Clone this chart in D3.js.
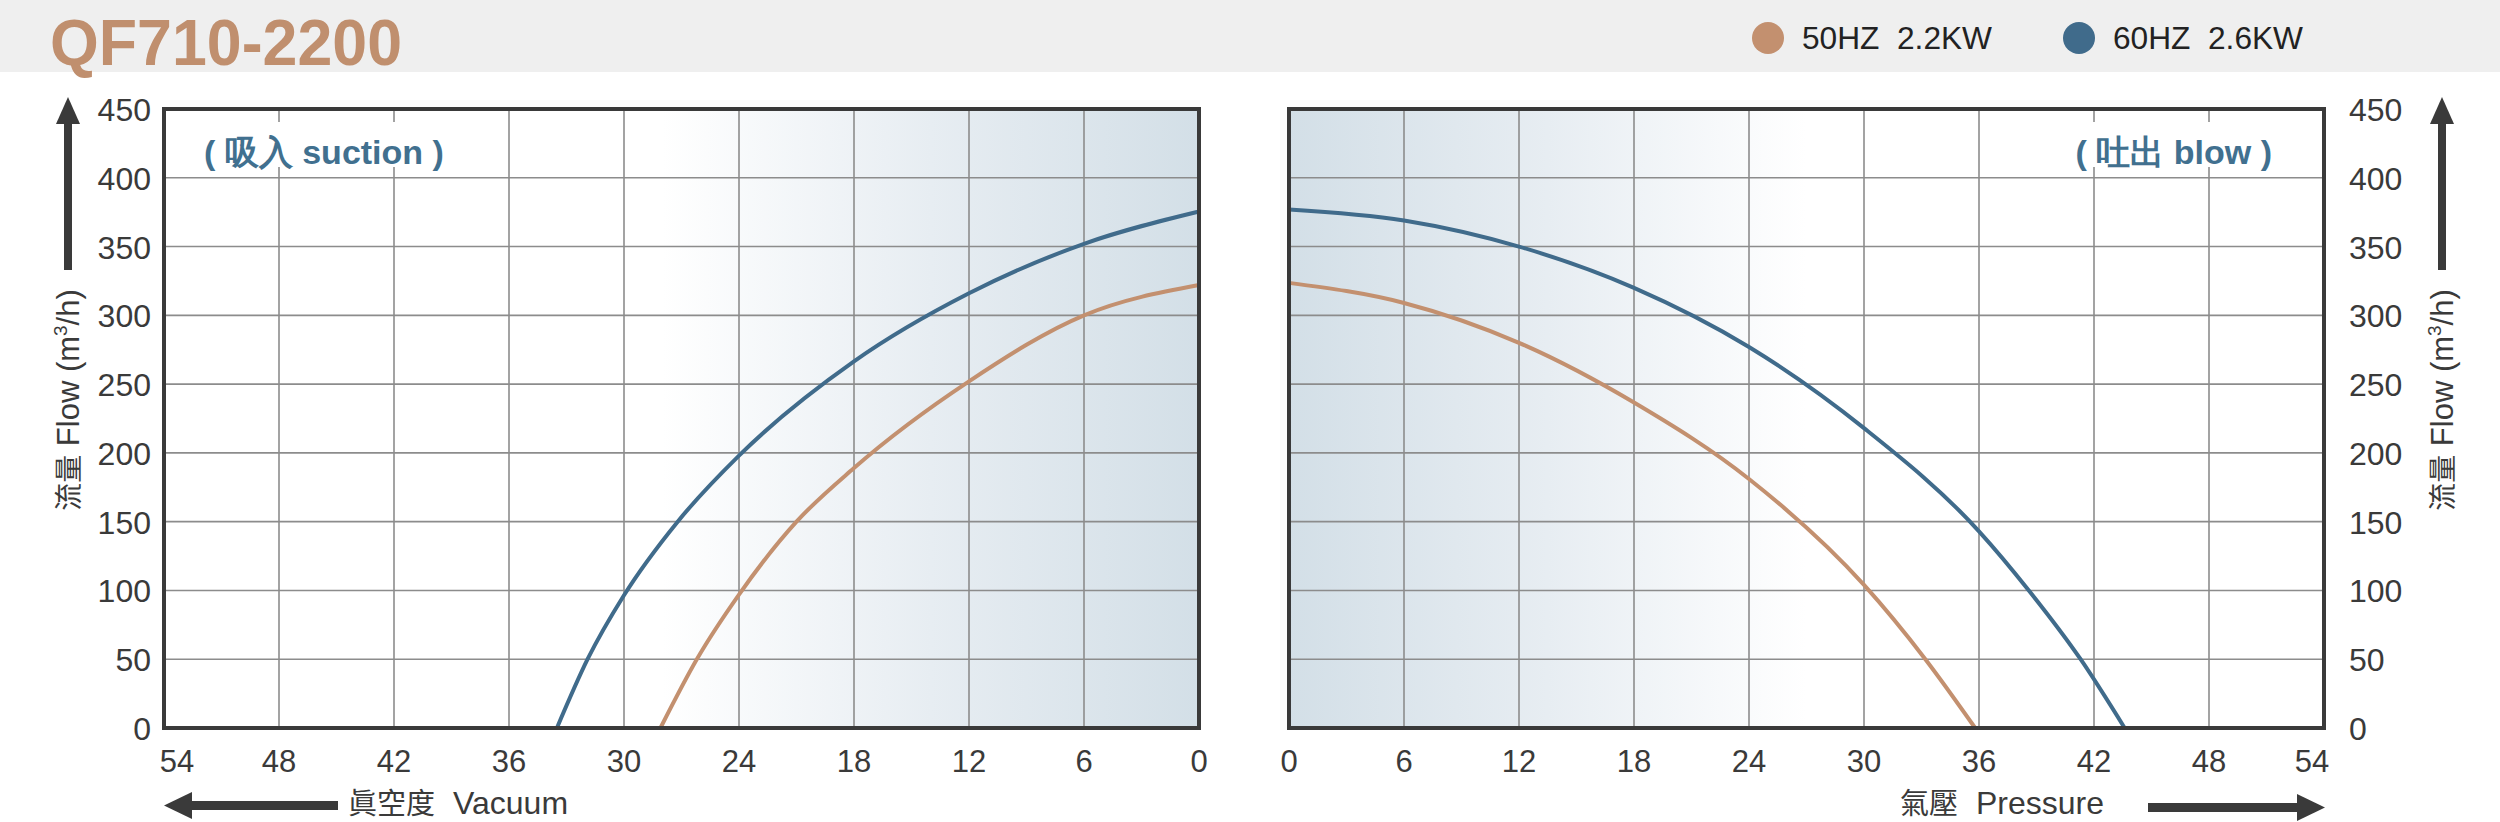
<!DOCTYPE html>
<html>
<head>
<meta charset="utf-8">
<script src="https://cdn.jsdelivr.net/npm/d3@7"></script>
<style>
  html, body { margin: 0; padding: 0; background: #fff; }
  svg { display: block; }
  text { font-family: "Liberation Sans", Arial, sans-serif; white-space: pre; }
</style>
</head>
<body>
<div id="chart"></div>
<script>
/* QF710-2200 suction / blow curves, two mirrored panels. */

var flowTicks = [0, 50, 100, 150, 200, 250, 300, 350, 400, 450];
var vacuumTicks = [54, 48, 42, 36, 30, 24, 18, 12, 6, 0];
var pressureTicks = [0, 6, 12, 18, 24, 30, 36, 42, 48, 54];

var seriesNames = ["50HZ  2.2KW", "60HZ  2.6KW"];
var seriesColors = ["#c3906f", "#406b8b"];

// [vacuum (kPa), flow m3/h]
var suction50 = [[0, 322], [6, 300], [12, 252], [18, 189], [21, 150], [24, 97], [26.2, 50], [28.1, 0]];
var suction60 = [[0, 375.5], [6, 352], [12, 316], [18, 266.5], [24, 198], [27.2, 150], [30, 96.5],
                 [31.9, 50], [33.5, 0]];
// [pressure (kPa), flow m3/h]
var blow50 = [[0, 323.6], [6, 309], [12, 280], [18, 236.6], [24, 181], [30, 104], [33.2, 50], [35.8, 0]];
var blow60 = [[0, 377], [6, 369], [12, 350], [18, 320], [24, 277], [30, 218], [36, 143],
              [38.6, 100], [41.3, 50], [43.6, 0]];

(function () {
  var W = 2500, H = 822;
  var ink = "#3a3a3a";
  var svg = d3.select("#chart").append("svg").attr("width", W).attr("height", H);
  var defs = svg.append("defs");

  // header band
  svg.append("rect").attr("x", 0).attr("y", 0).attr("width", W).attr("height", 72).attr("fill", "#efefef");
  svg.append("text").attr("x", 50).attr("y", 65)
    .attr("font-size", 64).attr("font-weight", 700).attr("fill", "#c08f6e")
    .attr("textLength", 352).attr("lengthAdjust", "spacingAndGlyphs")
    .text("QF710-2200");

  var legendX = [1768, 2079];
  seriesNames.forEach(function (name, i) {
    svg.append("circle").attr("cx", legendX[i]).attr("cy", 38).attr("r", 16).attr("fill", seriesColors[i]);
    svg.append("text").attr("x", legendX[i] + 34).attr("y", 49)
      .attr("font-size", 31).attr("fill", "#222")
      .attr("textLength", 190).attr("lengthAdjust", "spacingAndGlyphs")
      .text(name);
  });

  var y = d3.scaleLinear().domain([0, 450]).range([728, 109]);
  var xL = d3.scaleLinear().domain([54, 0]).range([164, 1199]);
  var xR = d3.scaleLinear().domain([0, 54]).range([1289, 2324]);

  function shade(id, x0, x1) {
    var g = defs.append("linearGradient").attr("id", id)
      .attr("gradientUnits", "userSpaceOnUse")
      .attr("x1", x0).attr("x2", x1).attr("y1", 0).attr("y2", 0);
    g.append("stop").attr("offset", 0).attr("stop-color", "#ffffff");
    g.append("stop").attr("offset", 0.5).attr("stop-color", "#e7edf2");
    g.append("stop").attr("offset", 1).attr("stop-color", "#d3dfe7");
  }
  shade("shadeL", xL(28), xL(0));
  shade("shadeR", xR(27), xR(0));

  function panel(x, ticks, lines, gradId, label, labelAnchor) {
    var x0 = Math.min(x.range()[0], x.range()[1]);
    var x1 = Math.max(x.range()[0], x.range()[1]);
    var g = svg.append("g");

    g.append("rect").attr("x", x0).attr("y", y(450)).attr("width", x1 - x0).attr("height", y(0) - y(450))
      .attr("fill", "url(#" + gradId + ")");

    g.append("g").selectAll("line").data(ticks).enter().append("line")
      .attr("x1", function (d) { return x(d); }).attr("x2", function (d) { return x(d); })
      .attr("y1", y(450)).attr("y2", y(0))
      .attr("stroke", "#8c8c8c").attr("stroke-width", 1.6);
    g.append("g").selectAll("line").data(flowTicks).enter().append("line")
      .attr("x1", x0).attr("x2", x1)
      .attr("y1", function (d) { return y(d); }).attr("y2", function (d) { return y(d); })
      .attr("stroke", "#8c8c8c").attr("stroke-width", 1.6);

    // panel label on a white patch
    var lx = labelAnchor === "start" ? x0 + 40 : x1 - 52;
    var t = g.append("text").attr("x", lx).attr("y", 164)
      .attr("text-anchor", labelAnchor)
      .attr("font-family", "'Open Sans', 'Noto Sans CJK TC', sans-serif")
      .attr("font-size", 34).attr("font-weight", 700).attr("fill", "#41708f")
      .text(label);
    var bb = t.node().getBBox();
    g.insert("rect", "text").attr("x", bb.x - 10).attr("y", 122).attr("width", bb.width + 20).attr("height", 45)
      .attr("fill", "#fff");

    var line = d3.line()
      .x(function (d) { return x(d[0]); })
      .y(function (d) { return y(d[1]); })
      .curve(d3.curveMonotoneX);
    lines.forEach(function (pts, i) {
      var sorted = pts.slice().sort(function (a, b) { return x(a[0]) - x(b[0]); });
      g.append("path").attr("d", line(sorted)).attr("fill", "none")
        .attr("stroke", seriesColors[i]).attr("stroke-width", 4);
    });

    g.append("rect").attr("x", x0).attr("y", y(450)).attr("width", x1 - x0).attr("height", y(0) - y(450))
      .attr("fill", "none").attr("stroke", ink).attr("stroke-width", 4);

    // end label "54" sits a little inside the frame, as in the source
    g.append("g").selectAll("text").data(ticks).enter().append("text")
      .attr("x", function (d) { return x(d) + (d === 54 ? (x(54) < x(0) ? 13 : -12) : 0); })
      .attr("y", 772)
      .attr("text-anchor", "middle").attr("font-size", 31).attr("fill", ink)
      .text(function (d) { return d; });
  }

  panel(xL, vacuumTicks, [suction50, suction60], "shadeL", "( 吸入 suction )", "start");
  panel(xR, pressureTicks, [blow50, blow60], "shadeR", "( 吐出 blow )", "end");

  // flow tick labels
  svg.append("g").selectAll("text").data(flowTicks).enter().append("text")
    .attr("x", 151).attr("y", function (d) { return y(d) + 12; })
    .attr("text-anchor", "end").attr("font-size", 32).attr("fill", ink)
    .text(function (d) { return d; });
  svg.append("g").selectAll("text").data(flowTicks).enter().append("text")
    .attr("x", 2349).attr("y", function (d) { return y(d) + 12; })
    .attr("text-anchor", "start").attr("font-size", 32).attr("fill", ink)
    .text(function (d) { return d; });

  function flowTitle(cx) {
    var t = svg.append("text")
      .attr("transform", "translate(" + (cx + 11) + ",400) rotate(-90)")
      .attr("text-anchor", "middle").attr("font-size", 31).attr("fill", ink);
    t.append("tspan").attr("font-family", "'Noto Sans CJK TC', sans-serif").attr("font-size", 28).text("流量");
    t.append("tspan").text(" Flow (m");
    t.append("tspan").attr("font-size", 19).attr("dy", -12).text("3");
    t.append("tspan").attr("dy", 12).text("/h)");
    // up arrow
    svg.append("rect").attr("x", cx - 4).attr("y", 120).attr("width", 8).attr("height", 150).attr("fill", ink);
    svg.append("path").attr("d", "M" + (cx - 12) + ",124 L" + (cx + 12) + ",124 L" + cx + ",97 Z").attr("fill", ink);
  }
  flowTitle(68);
  flowTitle(2442);

  // bottom titles and arrows
  var vt = svg.append("text").attr("x", 348).attr("y", 814).attr("font-size", 32).attr("fill", ink);
  vt.append("tspan").attr("font-family", "'Noto Sans CJK TC', sans-serif").attr("font-size", 29).text("眞空度");
  vt.append("tspan").attr("dx", 18).text("Vacuum");
  svg.append("rect").attr("x", 188).attr("y", 801).attr("width", 150).attr("height", 9).attr("fill", ink);
  svg.append("path").attr("d", "M164,805.5 L192,792 L192,819 Z").attr("fill", ink);

  var pt = svg.append("text").attr("x", 1900).attr("y", 814).attr("font-size", 32).attr("fill", ink);
  pt.append("tspan").attr("font-family", "'Noto Sans CJK TC', sans-serif").attr("font-size", 29).text("氣壓");
  pt.append("tspan").attr("dx", 18).text("Pressure");
  svg.append("rect").attr("x", 2148).attr("y", 803).attr("width", 152).attr("height", 9).attr("fill", ink);
  svg.append("path").attr("d", "M2325,807.5 L2297,794 L2297,821 Z").attr("fill", ink);
})();
</script>
</body>
</html>
